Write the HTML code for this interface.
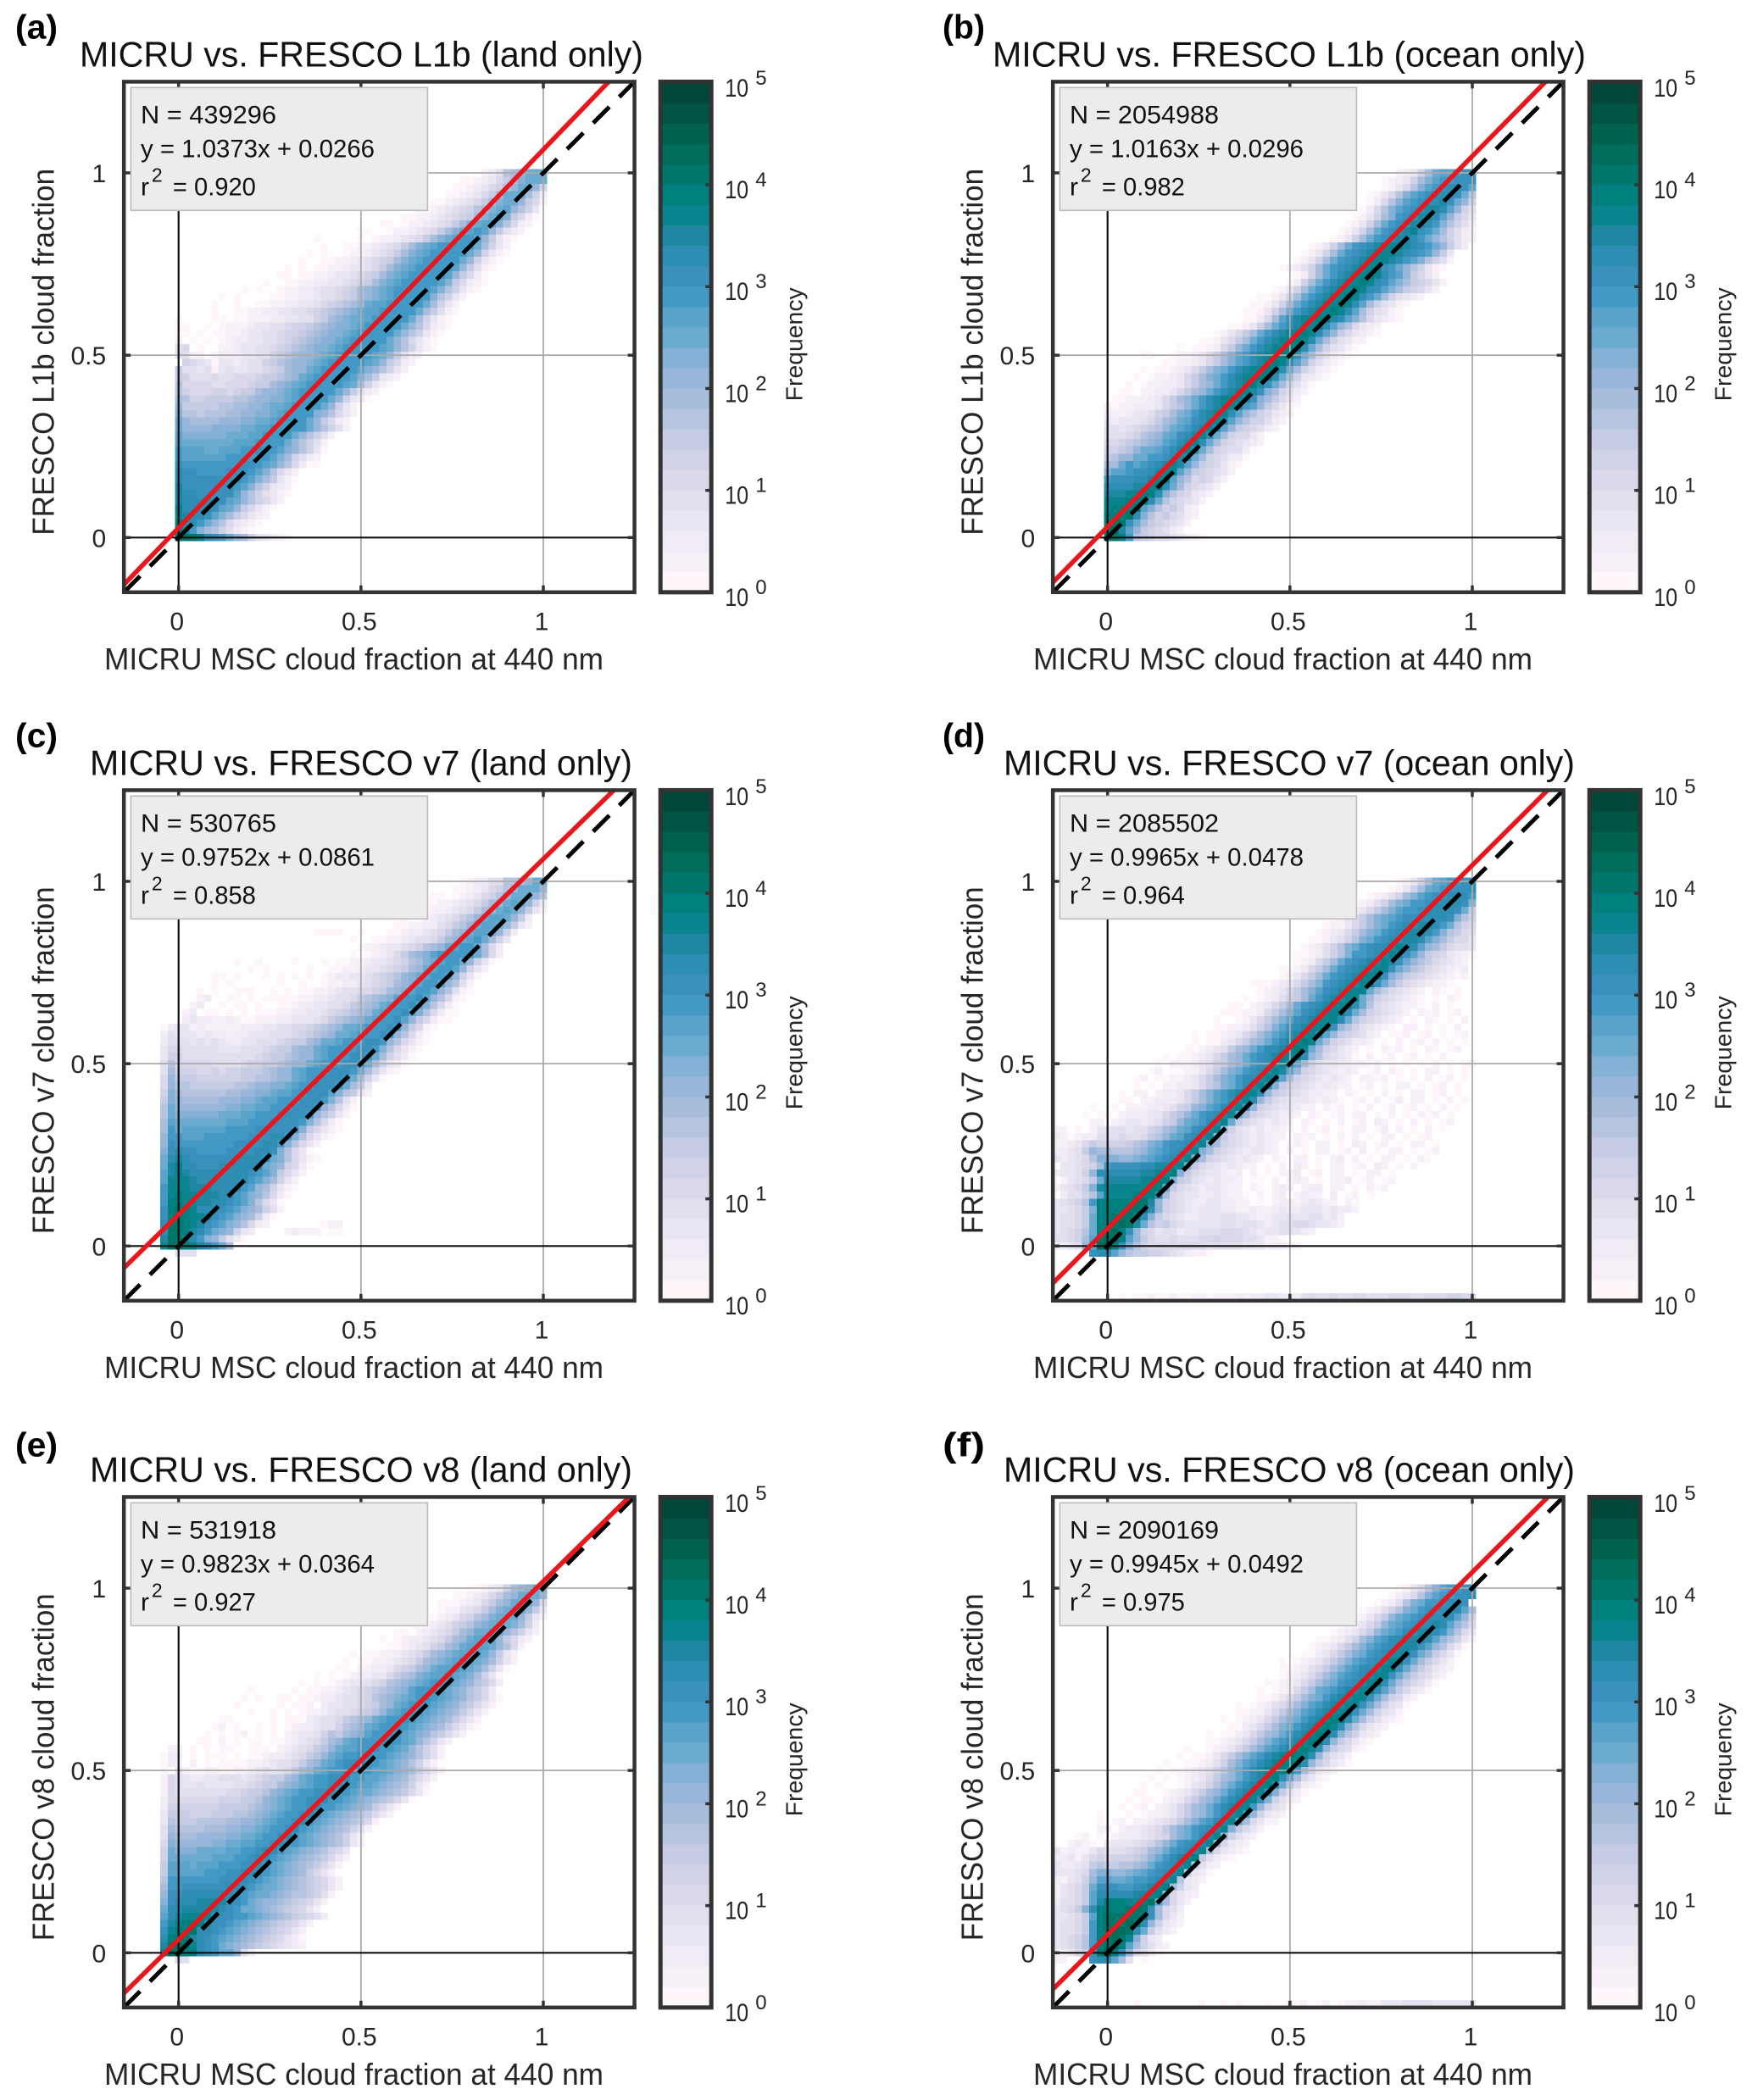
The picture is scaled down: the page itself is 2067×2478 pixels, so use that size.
<!DOCTYPE html>
<html>
<head>
<meta charset="utf-8">
<title>MICRU vs. FRESCO cloud fraction comparison</title>
<style>
html,body{margin:0;padding:0;background:#fff;}
svg{display:block;}
text{font-family:"Liberation Sans",sans-serif;}
</style>
</head>
<body>
<svg id="figure" xmlns="http://www.w3.org/2000/svg" width="2067" height="2478" viewBox="0 0 2067 2478"></svg>
<script>
const panelLetters = ["(a)","(b)","(c)","(d)","(e)","(f)"];
const panelTitles = ["MICRU vs. FRESCO L1b (land only)","MICRU vs. FRESCO L1b (ocean only)","MICRU vs. FRESCO v7 (land only)","MICRU vs. FRESCO v7 (ocean only)","MICRU vs. FRESCO v8 (land only)","MICRU vs. FRESCO v8 (ocean only)"];
const yAxisTitles = ["FRESCO L1b cloud fraction","FRESCO L1b cloud fraction","FRESCO v7 cloud fraction","FRESCO v7 cloud fraction","FRESCO v8 cloud fraction","FRESCO v8 cloud fraction"];
const xAxisTitle = "MICRU MSC cloud fraction at 440 nm";
const sampleCounts = ["439296","2054988","530765","2085502","531918","2090169"];
const fitSlopes = [1.0373,1.0163,0.9752,0.9965,0.9823,0.9945];
const fitIntercepts = [0.0266,0.0296,0.0861,0.0478,0.0364,0.0492];
const rSquared = ["0.920","0.982","0.858","0.964","0.927","0.975"];
const xTicks = [0,0.5,1];
const yTicks = [0,0.5,1];
const tickLabels = ["0","0.5","1"];
const colorExponents = [0,1,2,3,4,5];
const colorBands = ["#fef6fb","#f8f0f9","#f1ebf6","#eae5f2","#e2dfee","#dad8ea","#d0d2e7","#c5cce4","#b7c4e0","#a8bddc","#98b6d9","#85b1d6","#6cabd0","#5aa4cc","#4399c6","#3a90bd","#2d8db3","#1e88a3","#0a858f","#007f7f","#00776a","#006d5b","#00614f","#005443","#03463a"];

/* Heat rows run from y = 1.00 downward in 0.02 steps. Each letter is a log-frequency
   level (a = lowest band). The bar marks the column of the 1:1 line in that row:
   letters left of it end just before that column, letters right of it start there. */
const heatA = [
"bceijkmm|m","aabcdfhjlm|mm","aabcdfgikm|mkg","aabcdfhjmm|mjgc","aabcdefhjlm|mkhfb","aabcdefgijlm|nkigd",
"aabbcdefghjlm|nlhfca","aa.abbcdefhjlmn|nlifcb","aa..abbcdefhjlmno|nkhecb","a.....a.abbcdefhjlmnoo|nkhdba","a..aabbcdefhjlmnoooo|omjgdb",
"a.a..abbcdefhjlmnoooo|omkgdba","a..aabbcdefghjlmnoooo|omkgdba","a.a.aabbcddefhjlmnoooo|onkheba","aa.aabbcddefghjlmnoooo|onkhfca","a..aabbccddefghjlmnoooo|onlhfcba",
"a.a..abbccdeefghjklmnoooo|onligdba","a.a....aabbccdeefghjklmnooo|ooligdb","a..a..aabbccddefghijkmnnooo|oomjgdb","a..aabbccddeefghijklmnnooo|oomjheba","a....aa.aabbbccddeeghjklmmnooo|oomjgdba",
"aaa..a.abbbcddeefgghijkllmnooo|oomkifcba","aa.a.aabbcddeefgghijkllmnooo|oomkigdba","abb.a.a.abccddeefghijkllmnooo|oomkifdba","ef.a..bbcddeefghijkllmnooo|oonmkigdba","eebb.bcccddeeghijkklmnooo|oonmkhecb",
"gfedaddcdeeghijkklmnooo|oonmkhfcb","heedebdeddeefghjkkmnooo|oonlkigdb","hgeeefeefffghhijkmnooo|oonljhdcb","iffffeefffghhjklmnooo|oonmjgdba","igfffggfghhjkklmnooo|oomkhecb",
"jigghhhhiijkkllmnoo|oomkgdca","khhhhhiijjkklmmnoo|oomkgdb","liihiiijjkkllmnoo|oolkifdb","mkjjjjkkkllmmnoo|oomkhfcb","mkkkkllllmmnnoo|ooomkigeb",
"nllllllmmmnnoo|oomkigeb","nmmmmmmmnnnoo|oomkigeb","onnnmmnnnoop|oonlkigda","onnnnnnoooo|oonljgecb","poooooooop|ponmkifcaa",
"qppoooopp|ponlifdb","qppppppp|ponljhdba","rpppppp|ponligdcb","rqqppp|ppnkigedba","rqqqq|ppnmkigfdb",
"sqqq|qpnmkhfdba","srq|qpnljhfdcb","tq|qomkifdcba","t|roljigecba","|uuutqpomkjgedcba"
];
const heatB = [
"bcdgjmnnop|p","abcdgjlnoop|pp","abdfilnopq|qpn","abdfilnopqq|qpmi","acfilnopqq|rpmkg","acfilnopqr|rqnkge",
"abdgjlopqr|rqnkhfd","abdgjmopqr|rqoligec","abdgjmopqr|spomjgecb","abdgjmopqr|rqomkigecb","abdgjmopqrss|srqpomkhec",
"abdgjmopqrss|srqponkhd","abdgjmopqrss|srqonligeb","abcegjmopqrss|spomkigdba","acgjmoqrss|tsqonkhfdb","acgjmoqrss|tsqpnljhgfdb",
"abdgjmoqrss|tsqpnljhgfdb","aabdgjmoqrss|tsqomjgedcb","aabdgjmoqrss|tsqnjgedba","aabdgjmoqrss|tsqnjgedba","aacfjnprsst|trqnlifdcba",
"aabdgjmoqrss|sqnkifdcb","abdfhjmoqrsst|sqnkhfdcba","aabdfhjmoqrsst|sqmjgedbb","a.aabcfhkmoqrsst|sqmjgedba","aa..abbcdfhjlnoqrsst|sqmjgecba",
"aabbcdfhjlnoqrst|sqnkgecba","a.aabcdfhjlmoqrsst|sqmjgecba","a.abbcdfhjlmoqrsst|sqmjgdcba","a.abbccdfhjkmoqrst|rpmjgeca","aa.bbccdfhjkmoqrss|rpljgecb",
"aabbbcdfhjkmoqrsss|rpljhfdb","babbcccdfhikmoqrss|ronkhfdba","cbbcddeghjlmoqrss|qnkigfdcb","dcdddefhjkmnpqrs|rnkiggecb","eedefghikmnoqrs|qnkhgfecb",
"eeefgijkmnpqrs|qmjgffdb","ffghijklnoqrs|qmjgfedcb","gghikmmnoqrs|qmjgfeeca","hikkmmoopqr|qmjgfecca","jjmonopqrs|rnkhgfdba",
"lnnoppqrs|snkhgfedb","opppqqrs|snkifgfdb","qqqqrrs|tqmjgfedb","rrrsst|tqligfdcb","ssstt|tqmigfedb",
"sttt|unlighfcb","ttt|uqlighfecb","tu|upmjhgfedb","u|vrnkhgfecb","|uutoihgffedcba"
];
const heatC = [
"abcceeiijkm|m","aabcdfgikmm|mk","aa.abcdfgikmm|mki","aabbcdefhjkmn|mkgc","aabbcdefhjkmn|mkhdb","aa.abcdefhikmnn|mkhc",
"aabbccefhikmnn|mkhdb","aaaa..a...aabccdefhjkmnn|mkgc","a..aabbcdeefhjkmno|mjgd","abbcddefgijkmnoo|mjfc","a.abcdfhjklnoooo|omjfc",
"a..a....a...a.aabbcddefgijlmnoo|mkgda","a.a.....a..aabbcddefghjkmnoo|nkgdb","aa.a...a.a.a.a.abccddefghiklmnoo|nkgda","a.a......a..a..abbccdefghjklnoo|nkieb","a.a..aaa..a.a.aabbcdeeffghjklnoo|nkieba",
"bc..aa.a.aaaaabbccdeefhijklnoop|nkifba","bc..a.aa.a..aabccddeefhijkmnoop|nlifca","bc.aa.a.a.aaabbccddefghijkmnoop|nlifcaa","cdccbbcbaabbbccdddefhijklmnoop|nkhfcaa","acddbcbbbbbcccddeeffghijkmmnooop|okhfba",
"cedddcdccbccdddeeefghijkmmnooop|okifca","ceeedededccddeeefghhjkmmnooopp|okifdba","dffeeeeedddeeefghhjkkmnoooopp|olifdba","dggeeeeeeeeeefghhijkkmnooopp|omjgeca","eifffffeeeefgghhijkkmnooopp|omjgdca",
"ejgggffgfgghhhijkkmnoooppp|omjgdba","fkhhhgggggghhiijkkmnooppp|omjgda","fkiihhhhhhiijkkllmnooppp|omjhd","gljiiiiiijjkkllmnnooppp|nlihdb","hlkjjjjjkkkllmnnoooppp|olieb",
"imkkkkkkkllmmnnoooppp|okifca","imllllllmmmnnooopppp|okigdb","jnmmmmmmmnnnooopppp|olifca","jomnnnnnnooooppppp|olhfdba","koonnnoooooopppqq|olifdba",
"kpooooooooppppqq|olifdb","lpqppooooppppqq|plifda","mqrqppppppqqqq|pmlifdba","mrsqqpppqqqqq|qmlkgfca","nrsrqqqqqqqq|ponlhfdb",
"nsssrqqqqqq|qonljgdb","osssrrrqqq|qonkjgdba","ostssrrrq|qonlkifca","ottssrrq|qponlifda","ptutsqq|qponlkjgeb",
"ptutss|rponlkjgca","quuts|rponlkifcb.......abb","quut|rqomlkgdc....bcbbb.aa","ruu|sqolkheca","sv|uttrqomj",
"|.eee"
];
const heatD = [
"abdgjmnoop|p","abdgjmnopp|pq","abcegjlnoppq|qqo","abcegjlmoopqq|qqpl","abcdfhjlnoopqq|qqpmh","aabdfhjlmnoppqq|qqplig",
"abbdfhjlmopqqr|rqomigf","abcdfhjlmopqrr|rqolihfe","aabdegilmopqqr|rqnljhffd","abcegilmopqqrs|rqnkjhfeed","aabcegiloopqrs|rpnkhgfdcba",
"abcfhjmopqrrs|rpmkihfedcb","aabcfhjmopqrrs|spmkihfedcbc","abdfhjmopqrss|spljhgfedcbab","aaabcdfhjlopqrrs|spmjhfedcbba","abcdfhjlnpqrss|smjhfedcb.ba.a",
"a.abceghjmoqrrs|smjgfedcba.a.ba","aa.bcdfhjmopqrss|sqmifedcbba.b.a","aaabbcfhjlnpqrss|sqmjgfedcb.bab.ab","a..abdfhjlnpqrss|sqmigfedcb.a.ba.a.b","aabbcegilnpqrss|spkigedcba.bb.a.a.b",
"a.aabcdfhjlnoqrss|qnkhgfecb.aab.ab.a.ab","a.aacdfhjkmoqrst|smjgfeccb.a.b.ab.b.a.a","aabcdehjkmoqqrst|smjgfdcb.a.bab.a.ba.ab","a.aabcdfhjkmopqrss|sqkifedca.b.ab.ab.a.b.","a.bbbcdeghjkmopqrs|qnjgeddccbbab.a.a.a.b.a.ab",
"ab.aabbdfhjlmopqrs|rnkgfedcbcb.ab.ba.a.bb.a.a","ab.aabbcdfhjlmoqqrs|rnjgfedcdcb.bbab.a.a.b.ab.a","a.a.bbccdfhilmoqrs|qlhgfedcdcbb.ab.a.bb.a.ab.a.","a.bb.bccdfhjlnoqrss|qkhgfedccbb.ba.a.b.a.bb.ab.a","aa.bbcccdfhjlnoqrs|qkhfedddcbcba.ab.b.ac.bb.a.b.a",
"a..a.bbbccdeghklnoqrs|okgfeddcbb.bab.a.b.ab.ab.a.b.a","a.aa.bcccddfhikmopqrs|mjgfedccb.ba.ab.bb.a.b.a.bab.a","bb.bcddcdeghkmnoqrs|mhfedcdcb.ba.a.b.ab.cb.a.b.a.ab","bb.a.bddeedeeghjkmnpqrs|kgedcdbcba.b.ab.a.bb.ac.b.a.b.a","cbabcceeefeefhikmnpqrs|khfedcdcbb.bab.a.b.b.a.bb.a.ab.",
"cbbcdfhgggghijlmoppqrs|ljgfedcdcb.aba.bb.a.cb.ab.a.bb.a","dccdehkjjiiijkmnopqrs|ljgfedcddcb.b.a.bb.ab.c.a.bb.a.ab","dcdefilllkklmnopqrs|ljgfedcdcb.ba.bb.a.bc.b.a.bb.a.ba","ddefgjoppppqqrrss|lhfedcdcbb.a.b.cb.a.bb.ab.cb.a.b","cddegkqqqqqqrrsst|lhfeddcbc.b.a.bbc.ab.bb.a.bb.a",
"bdefhmrrrrrsstt|lhgedcdccb.aa.b.bcb.a.bbc.ab.ab","bdefhlrsssssstt|mhfedcddcbb.ba.bcb.bcc.bb.a.bab","ceeginssssttt|qjfeddccdcbba.b.bc.bcbb.c.ab.a","defgiotttttuu|rkgfedccddccbb.a.bccbcdcbb.ba","ddefhlttttuu|tqkgfedcdddccbbcbbcdccdddcdccb",
"deefhmttuuu|tqlhfedccdddeeddcbcddeddeecdb","deefhmttuv|urmighfedddddeedeedcdeeffeddcb","defgimtuv|tpkgfdeecddeeefffedcddeedcb","eefgjnuv|vtnkhfeefeeeffgfffeedbba","ccdeknv|wtpligffffffffeeeeedddcccbb",
"p|qqnkihhggfedcbba","","","","","",
"|.........a.aabaabaabbabbbcbccddcccefeefeeffeeefffeefffggffe"
];
const heatE = [
"aabcdgjklm|l","aabcdfhjkmm|mk","aaabcdfhjkmm|mkf","abbdefhjlmm|mkhd","aabcdfgijlmm|mkhdb","aabcdeghiklmm|mljgc",
"aa.bcdefhjkmmn|mkigdb","a.abccdefhjkmnn|nkhfcb","aabcdeghjkmnn|nmkifb","a.aabbcdefhjklmnn|nmkhdb","a.aabbcdefhjklmno|nmljgdb",
"aa.bbccdfghjkmnno|nmljgda","a.a.abccddfhijlmnno|nmljgda","a.a.abcddefgijklmnoo|nmlkihfc","a.....a.aabbcdefghijklnoop|nmlkihfc","a.a..aa.aabccdeefgijklmnop|onmlkihfca",
"a.....a.aab.cddeefghjkmnoo|onmlkihfdb","a..a.a.abbcdeefghikmnoo|onmlkjhfdb","aa.....a.aaacdeefhijkmnoop|onmlkjhfdb","ab.a..a.a.abccdeegijkmnoop|onmlkjhfdba","a.a.ab.a.a.bcddegihjklnoop|onmlkihfdb",
"aa.b.a.aa.aabcdefhjkmnooop|oonmkigdb","bb.a.a.aa..aaa.bcdefhikmnnoop|oonmkigeb","acc.a.aaa.a.aabccdefhikmnoopp|oonmlkigeb","acb.b.a.aaaabbcdeefhjkmnoppq|oonmlkigdb","a.dbaabbaabbcdedefhjkmnoopp|oonnmlkjhfdb",
"bfedccddeeedefghhjkmnooppq|oonnmlkjhfdb","bfeddeddddeefghhjklmnoopp|oonnmlkjigdb","bfeeeeeeeffghhiklmnooppq|oonmmlkjihfda","cfffffffggghhiklmnooppq|oonmlkjihfda","cggggggghhhhijklmnoopq|oonmlkjhfdb",
"dhhhggghhhiijklmnoopq|onmlkjihfdb","dihhhiiiijjkklmnoopq|onmlkjihfb","ejiiiijjjkkllmnoopq|onmlkjigeb","ekjjjkkkkllmmnoopq|onmlkjigdb","flkkkkkllmmnnoopq|oonmlkjigdb",
"gmlllmmmmnnoopqq|onmlkjigfd","gmmmmmmnnnoopqq|onmlkjihfdb","hnnnmnnnoooppq|onmlkjihfdb","hnnnnnoooppqq|ponmlkjhfdb","iooooooopppq|ponmlkjihgfdb",
"jooppppppqq|ponmmlkjihgfdb","kppqqqqqqq|ponmmlkjiihgeb","lpqqqrrrr|qpomlkkjihgfdb","mqqrrrrr|qpommlkjihgfdb","nqrssss|pppoonmlkjihgfec",
"orsttt|qpponmlkjihgfdb","psttu|qqponmlkjihgfdb","qttu|rqponmlkjihgfdca","ruv|usqpomlkjihgfedcb","sv|uttqpommkeb",
"|.fe"
];
const heatF = [
"abdfilnoop|p","acdfilnoop|pq","abceilmoopq|qp","abcegilmoppq|qqnj","aabdfhkmnopqq|qqnkg","abcdfhkmnopqq|rqnkif",
"abcdfhkmnoqqr|rqolifd","aabcegjlnoqqrr|rqnkigdb","abcdfhjlnopqrr|rpnkifda","aacdfhjlmopqrr|rpmkhfda","a.abcdfhjlnopqrs|spmjhfdb",
"aabcefhjlnoqqrs|spmjhfdcb","abcdfhjlnopqrs|spmjhfecb","aabcdfhjlmopqrs|sqmjhfeca","a.abcfhjmnoqrrs|sqnkhfdca","aabdfhjlmoqrrs|spmjgfcb",
"a.abcefhjlnoqrrs|spmjgeda","aabbdfhjlnoqrss|spmjgedb","a.abcdfhjlmoqrst|tqmjgecba","aacdfhjlmoqrst|sqlifdcb","a.aacdfhjkmoqrst|sqligdcb",
"aabcdfhjlnoqrst|sqkhfdba","a..abcdfhjlnoqrst|sqkhfeba","a.aabdfhjlnoqrstt|sqkgedb","a..aabcegjlnoqrstt|sqkhfdca","a.aabcdegikmoqrstt|rojgdcb",
"a.a.abcdfhjkmoqrst|qnjfdba","a.a..abdegikmoqrst|qmifcba","aa..abcdfhjkmoqrss|plheca","a.aa.bcdfhjkmoqrss|plgecb","a.ab.bcdfhjkmoqrss|okgeda",
"a...a.abbcdfhjkmoqrs|okgdcb","a.ab.bbcdefhjlnoqrs|mjfdbb","bb.bccdefhjlmopqrs|lhfdb","ab.a.bcccdefgjlmoqrs|kgecb","bcba.cdddefgikmopqrs|kfdcb",
"dbcbbdfeeefghjkmopqrs|jfdcba","ccdbdfgfggghikmoqrst|hecba","dccdehihhiijkmopqrs|hecb","dddefjllkklmnopqrs|hdca","cbdegknnmmnoopqrs|idcb",
"bdefhmpppoopqrst|jgdc","bdefhnqqqqqrrst|jfdcb","ceefhnrtttsstu|njfdb","defhlqttttuuu|pjfec","ddefhntuuuuu|tpjfdb",
"deefhotuuuv|tqkgdcb","deefhotuvv|uqmhecb","defgiotuv|uslgdc","defgiotu|vtnjgecb","ccdfhpu|wtpkfeca",
"bb...p|qqnje.a","","","","","",
"|...........a........a..a.a...a..bab.ab.abbcbbdddeeeeddddddc"
];
const heatPanels = [heatA,heatB,heatC,heatD,heatE,heatF];
const leftmostBin = [0,0,-3,-7,-3,-7];

const SVG_NS = "http://www.w3.org/2000/svg";
const figure = document.getElementById("figure");
const PX_PER_UNIT = 430.3;
const CB_DECADE = 120.2;
const TOP_ROW = 50;
const BIN = 0.02;
const AXIS_MIN = -0.15;
const AXIS_MAX = 1.25;
const columnOrigins = [210.7,1306.7];
const rowOrigins = [634.3,1470.3,2304.3];

function make(parent, tag, attrs, content){
  const el = document.createElementNS(SVG_NS, tag);
  for (const key in attrs) el.setAttribute(key, attrs[key]);
  if (content !== undefined) el.textContent = content;
  parent.appendChild(el);
  return el;
}
function xScale(p, v){ return columnOrigins[p % 2] + v * PX_PER_UNIT; }
function yScale(p, v){ return rowOrigins[Math.floor(p / 2)] - v * PX_PER_UNIT; }
function levelToBand(level){ return colorBands[Math.max(0, Math.min(colorBands.length - 1, level))]; }

function drawHeat(group, p){
  const rows = heatPanels[p];
  const minBin = leftmostBin[p];
  rows.forEach(function(row, i){
    if (!row) return;
    const r = TOP_ROW - i;
    const parts = row.split("|");
    const left = parts[0];
    const right = parts[1] || "";
    function cell(k, ch){
      if (ch === "." || k < minBin || k > 50) return;
      const x0 = xScale(p, (k - 0.5) * BIN);
      const x1 = xScale(p, (k + 0.5) * BIN);
      const yTop = yScale(p, (r + 0.5) * BIN);
      const yBot = yScale(p, (r - 0.5) * BIN);
      const rect = make(group, "rect", {x:x0.toFixed(2), y:yTop.toFixed(2), width:(x1-x0).toFixed(2), height:(yBot-yTop).toFixed(2), fill:levelToBand(ch.charCodeAt(0)-97), "shape-rendering":"crispEdges"});
      
      
    }
    for (let j = 0; j < left.length; j++) cell(r - left.length + j, left[j]);
    for (let j = 0; j < right.length; j++) cell(r + j, right[j]);
  });
}

function drawPanel(p){
  const suffix = "abcdef"[p];
  const x0 = xScale(p, 0);
  const y0 = yScale(p, 0);
  const left = xScale(p, AXIS_MIN), right = xScale(p, AXIS_MAX);
  const top = yScale(p, AXIS_MAX), bottom = yScale(p, AXIS_MIN);

  const g = make(figure, "g", {});
  
  

  const letterY = y0 - 589 + (p >= 4 ? 3 : 0);
  const letter = make(g, "text", {x:p%2?1112:18, y:letterY.toFixed(1), "font-size":40, "font-weight":"bold", fill:"#000", textLength:50, lengthAdjust:"spacingAndGlyphs"}, panelLetters[p]);
  
  

  const isOcean = p % 2 === 1;
  const isL1b = p < 2;
  const titleStart = isOcean ? (isL1b ? x0-135.7 : x0-122.7) : (isL1b ? x0-116.7 : x0-104.7);
  const titleLength = isOcean ? (isL1b ? 700 : 674) : (isL1b ? 665 : 640);
  const title = make(g, "text", {x:titleStart.toFixed(1), y:(y0-556).toFixed(1), "font-size":42, fill:"#111", textLength:titleLength, lengthAdjust:"spacingAndGlyphs"}, panelTitles[p]);
  
  

  const heat = make(g, "g", {});
  
  
  drawHeat(heat, p);

  [0.5, 1].forEach(function(v){
    const gx = make(g, "line", {x1:xScale(p,v), x2:xScale(p,v), y1:top, y2:bottom, stroke:"#aaa", "stroke-width":1.8});
    
    
    const gy = make(g, "line", {x1:left, x2:right, y1:yScale(p,v), y2:yScale(p,v), stroke:"#aaa", "stroke-width":1.8});
    
    
  });
  const zx = make(g, "line", {x1:x0, x2:x0, y1:top, y2:bottom, stroke:"#111", "stroke-width":2.2});
  
  
  const zy = make(g, "line", {x1:left, x2:right, y1:y0, y2:y0, stroke:"#111", "stroke-width":2.2});
  
  

  const clip = make(g, "clipPath", {id:"clip-"+suffix});
  make(clip, "rect", {x:left, y:top, width:right-left, height:bottom-top});

  const slope = fitSlopes[p], icpt = fitIntercepts[p];
  const lines = make(g, "g", {"clip-path":"url(#clip-"+suffix+")"});
  
  
  const oneToOne = make(lines, "line", {x1:xScale(p,AXIS_MIN), y1:yScale(p,AXIS_MIN), x2:xScale(p,AXIS_MAX), y2:yScale(p,AXIS_MAX), stroke:"#000", "stroke-width":5, "stroke-dasharray":"27 16.5"});
  
  
  const fit = make(lines, "line", {x1:xScale(p,AXIS_MIN), y1:yScale(p,slope*AXIS_MIN+icpt), x2:xScale(p,AXIS_MAX), y2:yScale(p,slope*AXIS_MAX+icpt), stroke:"#e8171d", "stroke-width":5.5});
  
  

  const box = make(g, "rect", {x:left, y:top, width:right-left, height:bottom-top, fill:"none", stroke:"#333", "stroke-width":4.5});
  
  

  xTicks.forEach(function(v, i){
    const tx = xScale(p, v);
    const tb = make(g, "line", {x1:tx, x2:tx, y1:bottom, y2:bottom-8, stroke:"#333", "stroke-width":3.5});
    
    
    const tt = make(g, "line", {x1:tx, x2:tx, y1:top, y2:top+8, stroke:"#333", "stroke-width":3.5});
    
    
    const lab = make(g, "text", {x:tx-2, y:y0+109, "font-size":30, "text-anchor":"middle", fill:"#262626"}, tickLabels[i]);
    
    
  });
  yTicks.forEach(function(v, i){
    const ty = yScale(p, v);
    const tl = make(g, "line", {x1:left, x2:left+8, y1:ty, y2:ty, stroke:"#333", "stroke-width":3.5});
    
    
    const tr = make(g, "line", {x1:right, x2:right-8, y1:ty, y2:ty, stroke:"#333", "stroke-width":3.5});
    
    
    const lab = make(g, "text", {x:x0-85.5, y:ty+11, "font-size":30, "text-anchor":"end", fill:"#262626"}, tickLabels[i]);
    
    
  });

  const xt = make(g, "text", {x:(x0-87.7).toFixed(1), y:y0+155.5, "font-size":36, fill:"#262626", textLength:589, lengthAdjust:"spacingAndGlyphs"}, xAxisTitle);
  
  
  const ylen = isL1b ? 433 : 410;
  const yx = x0 - 147, yy = y0 - 219;
  const yt = make(g, "text", {x:yx, y:yy, "font-size":36, fill:"#262626", "text-anchor":"middle", transform:"rotate(-90 "+yx+" "+yy+")", textLength:ylen, lengthAdjust:"spacingAndGlyphs"}, yAxisTitles[p]);
  
  

  const sx = x0 - 56.3, sy = yScale(p,1) - 100.7;
  const stat = make(g, "rect", {x:sx, y:sy, width:350, height:145, fill:"#ececec", stroke:"#bbb", "stroke-width":1.6});
  
  
  const intercept = fitIntercepts[p].toFixed(4), slopeText = fitSlopes[p].toFixed(4);
  const countWidth = 64 + sampleCounts[p].length * 16;
  const st1 = make(g, "text", {x:sx+11.6, y:sy+42, "font-size":30, fill:"#111", textLength:countWidth, lengthAdjust:"spacingAndGlyphs"}, "N = " + sampleCounts[p]);
  
  
  const st2 = make(g, "text", {x:sx+11.6, y:sy+82, "font-size":30, fill:"#111", textLength:276, lengthAdjust:"spacingAndGlyphs"}, "y = " + slopeText + "x + " + intercept);
  
  
  const st3 = make(g, "text", {x:sx+11.6, y:sy+127, "font-size":30, fill:"#111"}, "r");
  
  
  const st4 = make(g, "text", {x:sx+24.5, y:sy+111, "font-size":23, fill:"#111"}, "2");
  
  
  const st5 = make(g, "text", {x:sx+49.5, y:sy+127, "font-size":30, fill:"#111", textLength:98, lengthAdjust:"spacingAndGlyphs"}, "= " + rSquared[p]);
  
  

  const cbL = x0 + 567.5, cbR = x0 + 629.5;
  const cbY = function(logValue){ return bottom - logValue * CB_DECADE; };
  const bandsPerDecade = 5;
  colorBands.forEach(function(color, i){
    const yT = cbY((i+1)/bandsPerDecade), yB = cbY(i/bandsPerDecade);
    const band = make(g, "rect", {x:cbL, y:yT, width:cbR-cbL, height:yB-yT, fill:color, "shape-rendering":"crispEdges"});
    
    
  });
  const cbBox = make(g, "rect", {x:cbL+1, y:top, width:cbR-cbL-2, height:bottom-top, fill:"none", stroke:"#333", "stroke-width":5});
  
  
  colorExponents.forEach(function(e){
    const ty = cbY(e);
    if (e > 0 && e < 5) {
      const tick = make(g, "line", {x1:cbR-1, x2:cbR-8, y1:ty, y2:ty, stroke:"#333", "stroke-width":3.5});
      
      
    }
    const base = make(g, "text", {x:x0+644.5, y:ty+16, "font-size":30, fill:"#262626", textLength:28, lengthAdjust:"spacingAndGlyphs"}, "10");
    
    
    const exp = make(g, "text", {x:x0+680.5, y:ty+2, "font-size":24, fill:"#262626"}, String(e));
    
    
  });
  const fx = x0 + 736, fy = y0 - 228;
  const freq = make(g, "text", {x:fx, y:fy, "font-size":28, fill:"#262626", "text-anchor":"middle", transform:"rotate(-90 "+fx+" "+fy+")", textLength:134, lengthAdjust:"spacingAndGlyphs"}, "Frequency");
  
  
}

panelTitles.forEach(function(_, p){ drawPanel(p); });
</script>
</body>
</html>
